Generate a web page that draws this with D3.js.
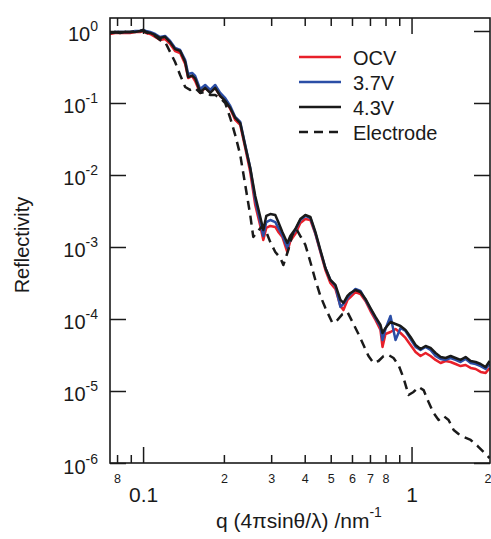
<!DOCTYPE html>
<html>
<head>
<meta charset="utf-8">
<script src="https://cdn.jsdelivr.net/npm/d3@7"></script>
<style>
  body { margin: 0; background: #fff; }
  svg { display: block; font-family: "Liberation Sans", Arial, sans-serif; }
</style>
</head>
<body>
<svg id="chart" width="491" height="539"></svg>
<script>
// q values (nm^-1) shared by the three cell measurements
const q = [0.0753, 0.0786, 0.0821, 0.0857, 0.0894, 0.0934, 0.0974, 0.100, 0.1026, 0.1062,
  0.1109, 0.1157, 0.1208, 0.1261, 0.1316, 0.1374, 0.1435, 0.1472, 0.1523, 0.1563,
  0.1632, 0.1703, 0.1778, 0.1856, 0.1938, 0.2023, 0.2112, 0.2204, 0.2301, 0.2402,
  0.2507, 0.2617, 0.2733, 0.2804, 0.2877, 0.2978, 0.3108, 0.3189, 0.3302, 0.3446,
  0.3536, 0.3691, 0.3853, 0.4022, 0.4199, 0.4383, 0.4576, 0.4777, 0.4986, 0.5205,
  0.5434, 0.5576, 0.5771, 0.5922, 0.6181, 0.6453, 0.6736, 0.7031, 0.7340, 0.7662,
  0.7795, 0.7998, 0.8349, 0.8716, 0.9099, 0.9497, 0.9915, 1.035, 1.080, 1.128,
  1.177, 1.229, 1.283, 1.339, 1.398, 1.459, 1.523, 1.590, 1.660, 1.733,
  1.809, 1.888, 1.954];

const ocv = [0.91, 0.94, 0.94, 0.94, 0.94, 0.97, 0.97, 1.0, 0.94, 0.91,
  0.825, 0.75, 0.774, 0.66, 0.527, 0.495, 0.348, 0.222, 0.237, 0.202,
  0.138, 0.162, 0.142, 0.162, 0.125, 0.110, 0.0825, 0.0581, 0.0495, 0.0237,
  0.0110, 0.00383, 0.00196, 0.00125, 0.00184, 0.00196, 0.00190, 0.00162, 0.00138, 8.52e-4,
  0.00121, 0.00152, 0.00215, 0.00245, 0.00237, 0.00152, 8.52e-4, 4.79e-4, 3.16e-4, 2.61e-4,
  1.52e-4, 1.33e-4, 1.84e-4, 2.02e-4, 2.37e-4, 2.22e-4, 1.78e-4, 1.29e-4, 9.69e-5, 7.03e-5,
  4.09e-5, 6.19e-5, 6.60e-5, 7.26e-5, 6.39e-5, 5.45e-5, 4.36e-5, 3.48e-5, 3.06e-5, 3.37e-5,
  3.06e-5, 2.70e-5, 2.45e-5, 2.61e-5, 2.53e-5, 2.37e-5, 2.22e-5, 2.30e-5, 2.09e-5, 2.02e-5,
  1.84e-5, 1.78e-5, 2.09e-5];

const v37 = [0.94, 0.97, 0.97, 0.97, 0.97, 1.0, 1.0, 1.03, 1.0, 0.97,
  0.91, 0.825, 0.852, 0.726, 0.581, 0.545, 0.396, 0.253, 0.261, 0.237,
  0.156, 0.178, 0.152, 0.178, 0.138, 0.117, 0.0909, 0.0639, 0.0545, 0.0261,
  0.0125, 0.00450, 0.00222, 0.00142, 0.00222, 0.00237, 0.00222, 0.00184, 0.00147, 9.69e-4,
  0.00133, 0.00172, 0.00237, 0.00270, 0.00253, 0.00156, 8.80e-4, 5.11e-4, 3.48e-4, 2.87e-4,
  1.47e-4, 1.62e-4, 1.96e-4, 2.22e-4, 2.61e-4, 2.45e-4, 1.84e-4, 1.38e-4, 1.03e-4, 7.74e-5,
  5.11e-5, 7.26e-5, 1.10e-4, 5.11e-5, 7.50e-5, 6.81e-5, 5.27e-5, 4.09e-5, 3.71e-5, 4.09e-5,
  3.71e-5, 3.06e-5, 2.78e-5, 2.70e-5, 2.87e-5, 2.70e-5, 2.53e-5, 2.78e-5, 2.45e-5, 2.37e-5,
  2.22e-5, 2.02e-5, 2.37e-5];

const v43 = [0.94, 0.97, 0.94, 0.97, 0.97, 0.97, 1.0, 1.03, 0.97, 0.94,
  0.88, 0.80, 0.83, 0.70, 0.56, 0.53, 0.37, 0.23, 0.24, 0.22,
  0.142, 0.162, 0.138, 0.162, 0.125, 0.107, 0.0852, 0.0619, 0.0527, 0.0253,
  0.0125, 0.00511, 0.00261, 0.00172, 0.00270, 0.00287, 0.00278, 0.00222, 0.00162, 0.00114,
  0.00142, 0.00178, 0.00245, 0.00278, 0.00261, 0.00162, 9.09e-4, 5.11e-4, 3.48e-4, 2.97e-4,
  1.84e-4, 1.67e-4, 2.09e-4, 2.30e-4, 2.53e-4, 2.37e-4, 1.90e-4, 1.42e-4, 1.07e-4, 8.25e-5,
  6.39e-5, 7.50e-5, 9.09e-5, 8.52e-5, 7.99e-5, 7.03e-5, 5.62e-5, 4.36e-5, 3.83e-5, 4.22e-5,
  3.96e-5, 3.37e-5, 2.97e-5, 2.87e-5, 3.06e-5, 2.87e-5, 2.70e-5, 2.97e-5, 2.61e-5, 2.53e-5,
  2.37e-5, 2.15e-5, 2.61e-5];

// bare electrode, own q grid
const qElectrode = [0.0753, 0.0821, 0.0894, 0.0974, 0.100, 0.1062, 0.1109, 0.1157, 0.1208, 0.1261,
  0.1316, 0.1374, 0.1435, 0.1497, 0.1563, 0.1632, 0.1703, 0.1778, 0.1856, 0.1938,
  0.2023, 0.2112, 0.2204, 0.2301, 0.2402, 0.2507, 0.2573, 0.2663, 0.2780, 0.2877,
  0.2978, 0.3108, 0.3245, 0.3330, 0.3476, 0.3597, 0.3723, 0.3853, 0.4022, 0.4199,
  0.4383, 0.4576, 0.4777, 0.5073, 0.5296, 0.5528, 0.5771, 0.6025, 0.6343, 0.6622,
  0.6913, 0.7216, 0.7533, 0.7863, 0.8208, 0.8568, 0.8944, 0.9336, 0.9745, 1.017,
  1.062, 1.109, 1.157, 1.208, 1.261, 1.316, 1.374, 1.435, 1.497, 1.563,
  1.660, 1.763, 1.856, 1.954];
const electrode = [0.94, 0.97, 0.97, 1.0, 1.0, 0.91, 0.852, 0.75, 0.703, 0.511,
  0.371, 0.245, 0.167, 0.152, 0.162, 0.138, 0.142, 0.129, 0.129, 0.117,
  0.100, 0.0619, 0.0359, 0.0190, 0.00726, 0.00278, 0.00138, 0.00162, 0.00196, 0.00162,
  0.00117, 8.52e-4, 7.03e-4, 5.62e-4, 9.09e-4, 0.00147, 0.00178, 0.00142, 0.00107, 6.19e-4,
  3.48e-4, 2.09e-4, 1.42e-4, 8.80e-5, 9.69e-5, 1.17e-4, 1.25e-4, 9.09e-5, 6.19e-5, 4.36e-5,
  3.06e-5, 2.45e-5, 2.61e-5, 3.06e-5, 3.16e-5, 2.87e-5, 2.30e-5, 1.52e-5, 8.80e-6, 9.69e-6,
  1.14e-5, 1.03e-5, 7.03e-6, 4.95e-6, 3.96e-6, 4.50e-6, 3.96e-6, 2.87e-6, 2.53e-6, 2.30e-6,
  2.09e-6, 1.72e-6, 1.42e-6, 1.17e-6];

const xMajorTicks = [0.1, 1];
const xMajorLabels = ['0.1', '1'];
const xMinorTicks = [0.08, 0.09, 0.2, 0.3, 0.4, 0.5, 0.6, 0.7, 0.8, 0.9, 2];
const xMinorLabels = ['8', '', '2', '3', '4', '5', '6', '7', '8', '', '2'];
const yTicks = [1, 1e-1, 1e-2, 1e-3, 1e-4, 1e-5, 1e-6];
const yExponents = ['0', '-1', '-2', '-3', '-4', '-5', '-6'];

const seriesNames = ['OCV', '3.7V', '4.3V', 'Electrode'];
const seriesColors = ['#e8202a', '#2b4ea6', '#1a1a1a', '#1a1a1a'];

const width = 491, height = 539;
const margin = {top: 18, right: 1, bottom: 76, left: 110};

const svg = d3.select('#chart');

const x = d3.scaleLog()
  .domain([0.0753, 1.96])
  .range([margin.left, width - margin.right]);
const y = d3.scaleLog()
  .domain([1e-6, 1.515])
  .range([height - margin.bottom, margin.top]);

const x0 = margin.left, x1 = width - margin.right;
const y0 = height - margin.bottom, y1 = margin.top;

svg.append('clipPath').attr('id', 'plot-clip')
  .append('rect')
  .attr('x', x0).attr('y', y1)
  .attr('width', x1 - x0).attr('height', y0 - y1);

// data lines
const line = d3.line()
  .x(d => x(d[0]))
  .y(d => y(d[1]));

const series = [
  q.map((v, i) => [v, ocv[i]]),
  q.map((v, i) => [v, v37[i]]),
  q.map((v, i) => [v, v43[i]]),
  qElectrode.map((v, i) => [v, electrode[i]])
];

const plot = svg.append('g').attr('clip-path', 'url(#plot-clip)');
series.forEach((s, i) => {
  plot.append('path')
    .datum(s)
    .attr('fill', 'none')
    .attr('stroke', seriesColors[i])
    .attr('stroke-width', 2.5)
    .attr('stroke-linejoin', 'round')
    .attr('stroke-dasharray', i === 3 ? '9,6' : null)
    .attr('d', line);
});

// axes, all ticks point inward
function styleAxis(g) {
  g.select('.domain').remove();
  g.selectAll('.tick line').attr('stroke', '#1a1a1a').attr('stroke-width', 1.5);
  g.selectAll('.tick text').attr('fill', '#1a1a1a');
}

svg.append('g')
  .attr('transform', `translate(0,${y0})`)
  .call(d3.axisBottom(x).tickValues(xMinorTicks).tickSize(-8).tickPadding(11)
    .tickFormat((d, i) => xMinorLabels[i]))
  .call(styleAxis)
  .call(g => g.selectAll('.tick text').attr('font-size', 12.5))
  // last label sits on the right edge; keep it inside the page
  .call(g => g.selectAll('.tick text').filter(d => d === 2).attr('text-anchor', 'end').attr('x', -1.5));

svg.append('g')
  .attr('transform', `translate(0,${y0})`)
  .call(d3.axisBottom(x).tickValues(xMajorTicks).tickSize(-16).tickPadding(24)
    .tickFormat((d, i) => xMajorLabels[i]))
  .call(styleAxis)
  .call(g => g.selectAll('.tick text').attr('font-size', 21));

svg.append('g')
  .attr('transform', `translate(0,${y1})`)
  .call(d3.axisTop(x).tickValues(xMinorTicks).tickSize(-8).tickFormat(''))
  .call(styleAxis);
svg.append('g')
  .attr('transform', `translate(0,${y1})`)
  .call(d3.axisTop(x).tickValues(xMajorTicks).tickSize(-16).tickFormat(''))
  .call(styleAxis);

const yLeft = svg.append('g')
  .attr('transform', `translate(${x0},0)`)
  .call(d3.axisLeft(y).tickValues(yTicks).tickSize(-16).tickFormat(''))
  .call(styleAxis);

yLeft.selectAll('.tick').each(function(d, i) {
  const t = d3.select(this).append('text')
    .attr('x', -12)
    .attr('y', 10)
    .attr('text-anchor', 'end')
    .attr('fill', '#1a1a1a')
    .attr('font-size', 20);
  t.append('tspan').text('10');
  t.append('tspan').attr('dy', -10).attr('font-size', 14).text(yExponents[i]);
});

svg.append('g')
  .attr('transform', `translate(${x1},0)`)
  .call(d3.axisRight(y).tickValues(yTicks).tickSize(-16).tickFormat(''))
  .call(styleAxis);

// frame
svg.append('rect')
  .attr('x', x0).attr('y', y1)
  .attr('width', x1 - x0).attr('height', y0 - y1)
  .attr('fill', 'none')
  .attr('stroke', '#1a1a1a')
  .attr('stroke-width', 1.6);

// axis titles
const xt = svg.append('text')
  .attr('x', 299).attr('y', 528)
  .attr('text-anchor', 'middle')
  .attr('font-size', 21)
  .attr('fill', '#1a1a1a');
xt.append('tspan').text('q (4\u03c0sin\u03b8/\u03bb) /nm');
xt.append('tspan').attr('dy', -11).attr('font-size', 14).text('-1');

svg.append('text')
  .attr('transform', 'translate(29,245) rotate(-90)')
  .attr('text-anchor', 'middle')
  .attr('font-size', 20)
  .attr('fill', '#1a1a1a')
  .text('Reflectivity');

// legend
const legend = svg.append('g').attr('transform', 'translate(299,57)');
seriesNames.forEach((name, i) => {
  const row = legend.append('g').attr('transform', `translate(0,${i * 25})`);
  row.append('line')
    .attr('x1', 0).attr('x2', 42)
    .attr('stroke', seriesColors[i])
    .attr('stroke-width', 2.5)
    .attr('stroke-dasharray', i === 3 ? '9,6' : null);
  row.append('text')
    .attr('x', 54).attr('y', 8)
    .attr('font-size', 20)
    .attr('fill', '#1a1a1a')
    .text(name);
});
</script>
</body>
</html>
